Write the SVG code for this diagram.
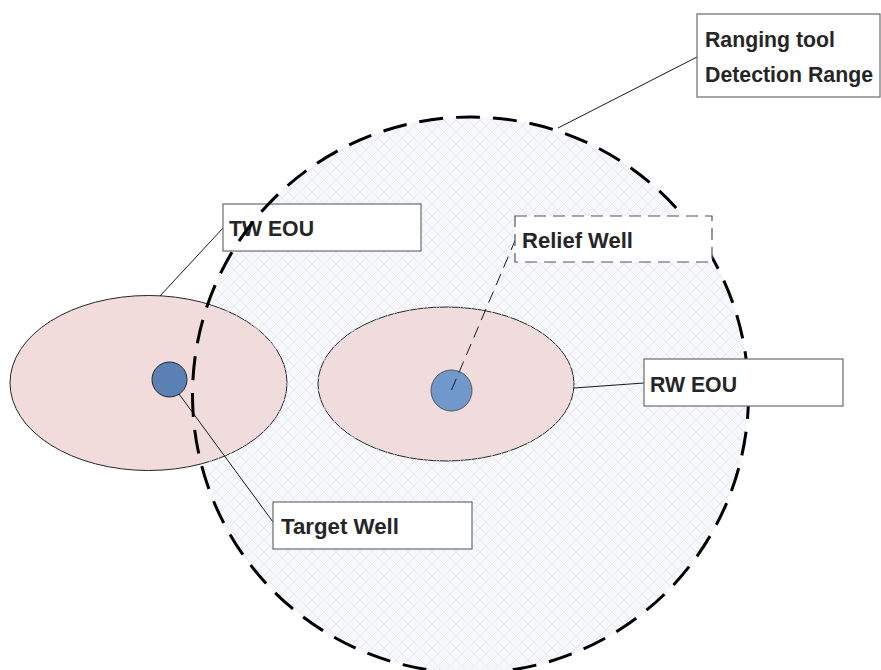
<svg xmlns="http://www.w3.org/2000/svg" width="881" height="670" viewBox="0 0 881 670">
<style>
.lbl{font-family:"Liberation Sans",Arial,sans-serif;font-weight:bold;font-size:21.5px;fill:#262626}
.box{fill:#ffffff;stroke:#6b6b6b;stroke-width:1.2}
.lead{stroke:#1a1a1a;stroke-width:1;fill:none}
.eou{fill:#f1dcdb;stroke:#262626;stroke-width:1}
</style>
<defs>
<pattern id="hatch" width="12" height="12" patternUnits="userSpaceOnUse">
<path d="M0,0 L12,12 M12,0 L0,12" stroke="#dfe3ea" stroke-width="0.8" fill="none" opacity="0.7"/>
</pattern>
</defs>
<rect width="881" height="670" fill="#ffffff"/>
<g id="range-fill">
<circle cx="470.5" cy="395" r="278" fill="#f5f7fb"/>
</g>
<g id="tw-eou"><ellipse class="eou" cx="148.5" cy="383" rx="138.5" ry="87.5"/></g>
<g id="rw-eou"><ellipse class="eou" cx="446" cy="384" rx="128" ry="77"/></g>
<g id="hatch-overlay"><circle cx="470.5" cy="395" r="278" fill="url(#hatch)"/></g>
<g id="target-well"><circle cx="169.5" cy="379.5" r="17.5" fill="#5a80b6" stroke="#262626" stroke-width="1"/></g>
<g id="relief-well"><circle cx="451.5" cy="390.5" r="20.5" fill="#7098cb" stroke="#555" stroke-width="1"/></g>
<g id="connectors">
<line class="lead" x1="558" y1="128" x2="697" y2="57"/>
<line class="lead" x1="160" y1="296" x2="223" y2="228"/>
<line class="lead" x1="451.5" y1="390" x2="517" y2="236" stroke-dasharray="12,7"/>
<line class="lead" x1="574" y1="388" x2="644" y2="383"/>
<line class="lead" x1="179" y1="394" x2="273" y2="522"/>
</g>
<g id="tw-eou-label">
<rect class="box" x="223" y="204" width="198" height="47"/>
<text class="lbl" x="229" y="236" textLength="85" lengthAdjust="spacingAndGlyphs">TW EOU</text>
</g>
<g id="range-circle">
<circle cx="470.5" cy="395" r="278" fill="none" stroke="#000" stroke-width="3" stroke-dasharray="24,13"/>
</g>
<g id="ranging-label">
<rect class="box" x="697" y="14" width="183" height="83"/>
<text class="lbl" x="705" y="47" textLength="130" lengthAdjust="spacingAndGlyphs">Ranging tool</text>
<text class="lbl" x="705" y="82" textLength="168" lengthAdjust="spacingAndGlyphs">Detection Range</text>
</g>
<g id="relief-label">
<rect x="515" y="216" width="197" height="46" fill="#ffffff" stroke="#555555" stroke-width="1.2" stroke-dasharray="12,7"/>
<text class="lbl" x="522" y="248" textLength="111" lengthAdjust="spacingAndGlyphs">Relief Well</text>
</g>
<g id="rw-eou-label">
<rect class="box" x="644" y="359" width="199" height="47"/>
<text class="lbl" x="650" y="392" textLength="87" lengthAdjust="spacingAndGlyphs">RW EOU</text>
</g>
<g id="target-label">
<rect class="box" x="273" y="502" width="199" height="47"/>
<text class="lbl" x="281" y="534" textLength="118" lengthAdjust="spacingAndGlyphs">Target Well</text>
</g>
</svg>
